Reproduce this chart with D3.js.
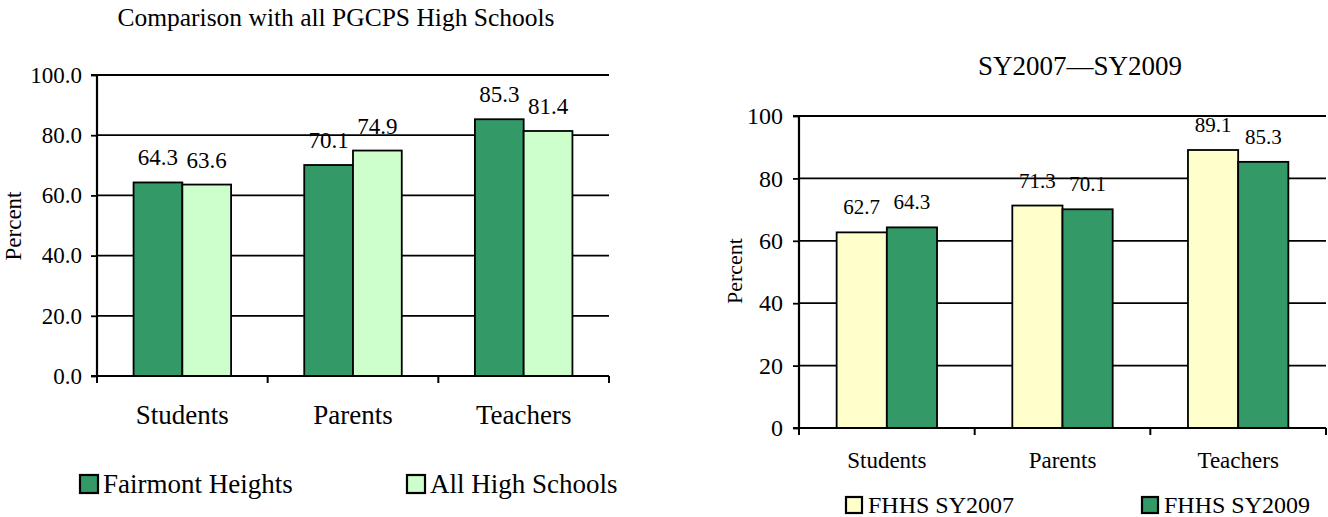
<!DOCTYPE html>
<html>
<head>
<meta charset="utf-8">
<script src="https://cdn.jsdelivr.net/npm/d3@7"></script>
<style>
  body { margin: 0; background: #fff; }
</style>
</head>
<body>
<div id="container"></div>
<script>
/* DATA */
const groups = ["Students", "Parents", "Teachers"];

const leftSeries = ["Fairmont Heights", "All High Schools"];
const fairmontValues = [64.3, 70.1, 85.3];
const allHighValues = [63.6, 74.9, 81.4];
const leftTicks = [0, 20, 40, 60, 80, 100];

const rightSeries = ["FHHS SY2007", "FHHS SY2009"];
const sy2007Values = [62.7, 71.3, 89.1];
const sy2009Values = [64.3, 70.1, 85.3];
const rightTicks = [0, 20, 40, 60, 80, 100];

/* CONSTANTS */
const width = 1328, height = 517;
const dark = "#339966", lightGreen = "#ccffcc", lightYellow = "#ffffcc";
const FONT = "'Liberation Serif', 'Times New Roman', Times, serif";

const svg = d3.select("#container").append("svg")
  .attr("width", width)
  .attr("height", height)
  .style("font-family", FONT);

// one grouped bar chart, config passed in
function barChart(cfg) {
  const g = svg.append("g");

  const x0 = d3.scaleBand().domain(groups).range([cfg.left, cfg.right]).paddingInner(0).paddingOuter(0);
  const x1 = d3.scaleBand().domain([0, 1])
    .range([0, x0.bandwidth()])
    .paddingInner(0)
    .paddingOuter(cfg.outerPad);
  const y = d3.scaleLinear().domain([0, 100]).range([cfg.bottom, cfg.top]);

  // gridlines
  g.selectAll("line.grid")
    .data(cfg.ticks.filter(d => d > 0))
    .join("line")
    .attr("x1", cfg.left).attr("x2", cfg.right)
    .attr("y1", d => y(d)).attr("y2", d => y(d))
    .attr("stroke", "#000").attr("stroke-width", 1.8);

  // y axis
  const yAxis = d3.axisLeft(y).tickValues(cfg.ticks).tickSize(6).tickPadding(cfg.tickPad).tickFormat(cfg.fmt);
  const ya = g.append("g").attr("transform", `translate(${cfg.left},0)`).call(yAxis);
  ya.attr("font-family", null).attr("font-size", null);
  ya.select(".domain").attr("stroke", "#000").attr("stroke-width", 2.2).attr("d", `M-6,${cfg.bottom}H0V${cfg.top}H-6`);
  ya.selectAll(".tick line").attr("stroke", "#000").attr("stroke-width", 1.8);
  ya.selectAll(".tick text").style("font-family", FONT).style("font-size", cfg.tickFont + "px");

  // bars
  const rows = groups.map((grp, i) => ({ grp, vals: [cfg.a[i], cfg.b[i]] }));
  const gg = g.selectAll("g.grp").data(rows).join("g")
    .attr("transform", d => `translate(${x0(d.grp)},0)`);
  gg.selectAll("rect")
    .data(d => d.vals.map((v, k) => ({ v, k })))
    .join("rect")
    .attr("x", d => x1(d.k))
    .attr("width", x1.bandwidth())
    .attr("y", d => y(d.v))
    .attr("height", d => y(0) - y(d.v))
    .attr("fill", d => cfg.colors[d.k])
    .attr("stroke", "#000").attr("stroke-width", 1.8);
  gg.selectAll("text.val")
    .data(d => d.vals.map((v, k) => ({ v, k })))
    .join("text")
    .attr("class", "val")
    .attr("x", d => x1(d.k) + x1.bandwidth() / 2)
    .attr("y", d => y(d.v) - cfg.labelOff)
    .attr("text-anchor", "middle")
    .style("font-family", FONT)
    .style("font-size", cfg.valFont + "px")
    .text(d => d.v.toFixed(1));

  // x axis
  const xa = g.append("g");
  xa.append("line").attr("x1", cfg.left).attr("x2", cfg.right)
    .attr("y1", cfg.bottom).attr("y2", cfg.bottom)
    .attr("stroke", "#000").attr("stroke-width", 2.2);
  xa.selectAll("line.tk")
    .data([cfg.left, ...groups.map(d => x0(d) + x0.bandwidth())])
    .join("line")
    .attr("class", "tk")
    .attr("x1", d => d).attr("x2", d => d)
    .attr("y1", cfg.bottom).attr("y2", cfg.bottom + 7)
    .attr("stroke", "#000").attr("stroke-width", 2);
  xa.selectAll("text.cat")
    .data(groups)
    .join("text")
    .attr("class", "cat")
    .attr("x", d => x0(d) + x0.bandwidth() / 2)
    .attr("y", cfg.catY)
    .attr("text-anchor", "middle")
    .style("font-family", FONT)
    .style("font-size", cfg.catFont + "px")
    .text(d => d);

  // y title
  g.append("text")
    .attr("transform", `translate(${cfg.yTitleX},${cfg.yTitleY}) rotate(-90)`)
    .attr("text-anchor", "middle")
    .style("font-family", FONT)
    .style("font-size", cfg.yTitleFont + "px")
    .text("Percent");

  // chart title
  g.append("text")
    .attr("x", cfg.titleX).attr("y", cfg.titleY)
    .attr("text-anchor", "middle")
    .style("font-family", FONT)
    .style("font-size", cfg.titleFont + "px")
    .text(cfg.title);

  // legend
  const lg = g.selectAll("g.leg").data(cfg.series).join("g")
    .attr("class", "leg")
    .attr("transform", (d, i) => `translate(${cfg.legX[i]},${cfg.legY})`);
  lg.append("rect")
    .attr("x", 0).attr("y", -cfg.legBox)
    .attr("width", cfg.legBox).attr("height", cfg.legBox)
    .attr("fill", (d, i) => cfg.colors[i])
    .attr("stroke", "#000").attr("stroke-width", 2.2);
  lg.append("text")
    .attr("x", cfg.legBox + cfg.legGap)
    .style("font-family", FONT)
    .style("font-size", cfg.legFont + "px")
    .text(d => d);
}

barChart({
  left: 97, right: 609, top: 75, bottom: 376,
  outerPad: 0.75, ticks: leftTicks, fmt: d3.format(".1f"), tickPad: 9,
  a: fairmontValues, b: allHighValues, colors: [dark, lightGreen],
  series: leftSeries,
  tickFont: 23, valFont: 23, catFont: 27, labelOff: 17, catY: 424,
  yTitleX: 21, yTitleY: 226, yTitleFont: 23,
  title: "Comparison with all PGCPS High Schools", titleX: 336, titleY: 26, titleFont: 25.5,
  legX: [80, 407], legY: 493, legBox: 18, legGap: 5, legFont: 27
});

barChart({
  left: 799, right: 1326, top: 116, bottom: 428,
  outerPad: 0.75, ticks: rightTicks, fmt: d3.format("d"), tickPad: 10,
  a: sy2007Values, b: sy2009Values, colors: [lightYellow, dark],
  series: rightSeries,
  tickFont: 24, valFont: 21, catFont: 23, labelOff: 18, catY: 468,
  yTitleX: 742, yTitleY: 271, yTitleFont: 22,
  title: "SY2007\u2014SY2009", titleX: 1080, titleY: 75, titleFont: 27,
  legX: [846, 1142], legY: 513, legBox: 16, legGap: 6, legFont: 24
});
</script>
</body>
</html>
